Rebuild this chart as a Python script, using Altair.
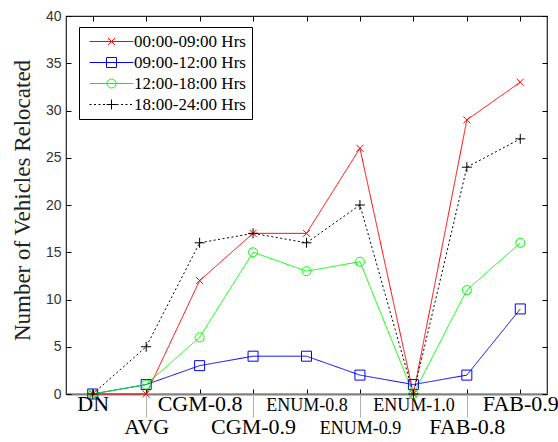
import altair as alt
import pandas as pd

categories = ["DN", "AVG", "CGM-0.8", "CGM-0.9", "ENUM-0.8", "ENUM-0.9", "ENUM-1.0", "FAB-0.8", "FAB-0.9"]
series_names = ["00:00-09:00 Hrs", "09:00-12:00 Hrs", "12:00-18:00 Hrs", "18:00-24:00 Hrs"]
s_00_09 = [0, 0, 12, 17, 17, 26, 0, 29, 33]
s_09_12 = [0, 1, 3, 4, 4, 2, 1, 2, 9]
s_12_18 = [0, 1, 6, 15, 13, 14, 0, 11, 16]
s_18_24 = [0, 5, 16, 17, 16, 20, 0, 24, 27]
y_ticks = [0, 5, 10, 15, 20, 25, 30, 35, 40]
lower_row = ["AVG", "CGM-0.9", "ENUM-0.9", "FAB-0.8"]

colors = ["#ff0000", "#0000ff", "#00ff00", "#000000"]

rows = []
for name, vals in zip(series_names, [s_00_09, s_09_12, s_12_18, s_18_24]):
    for i, (c, v) in enumerate(zip(categories, vals)):
        rows.append({"cat": c, "series": name, "value": v, "idx": i})
df = pd.DataFrame(rows)

# marker symbols (unit square paths)
m_x = "M-0.7,-0.7L0.7,0.7M-0.7,0.7L0.7,-0.7"
m_sq = "M-1,-1H1V1H-1Z"
m_ci = "M-0.9,0A0.9,0.9 0 1,0 0.9,0A0.9,0.9 0 1,0 -0.9,0"
m_pl = "M-1,0H1M0,-1V1"
markers = [m_x, m_sq, m_ci, m_pl]

L = 4.4
solid = f"M-{L},0H{L}"
dots = ""
p = -L
while p < L:
    q = min(p + 0.4, L)
    dots += f"M{p:.2f},0H{q:.2f}"
    p += 0.9
legend_syms = [solid + m_x, solid + m_sq, solid + m_ci, dots + m_pl]

odd_test = "indexof(" + str(lower_row) + ", datum.value) >= 0"

x_scale = alt.Scale(type="point", domain=categories, padding=0.5)
y_scale = alt.Scale(domain=[0, 40], nice=False)
col_scale = alt.Scale(domain=series_names, range=colors)
SERIF = "Liberation Serif"
INWARD = {"expr": "-5"}

base = alt.Chart(df)

lines = base.mark_line(strokeWidth=1, clip=False).encode(
    x=alt.X("cat:N", scale=x_scale, sort=categories,
            axis=alt.Axis(orient="bottom", title=None, tickSize=INWARD, tickColor="#000",
                          labelExpr=f"{odd_test} ? ['', datum.label] : datum.label",
                          labelFont=SERIF,
                          labelFontSize={"condition": {"test": "indexof(datum.value, 'ENUM') >= 0", "value": 18}, "value": 22},
                          labelBaseline="alphabetic", labelPadding=21, labelLineHeight=23,
                          labelAngle=0, labelColor="#000", labelOverlap=False,
                          domainColor="#808080", domainWidth=2)),
    y=alt.Y("value:Q", scale=y_scale,
            axis=alt.Axis(orient="left", values=y_ticks, tickSize=INWARD, tickColor="#000",
                          labelFont="Liberation Sans", labelFontSize=14, labelColor="#333",
                          labelPadding=10, domain=False, grid=False,
                          title="Number of Vehicles Relocated", titleFont=SERIF,
                          titleFontSize=23, titleFontWeight="normal", titleColor="#222",
                          titleAngle=-90, titleX=-44, titleY=184,
                          titleAlign="center", titleBaseline="middle")),
    color=alt.Color("series:N", scale=col_scale, legend=None),
    strokeDash=alt.StrokeDash("series:N", scale=alt.Scale(domain=series_names,
                              range=[[1, 0], [1, 0], [1, 0], [2, 2.5]]), legend=None),
    order="idx:Q",
)

points = base.mark_point(filled=False, size=100, strokeWidth=1, opacity=1, clip=False).encode(
    x=alt.X("cat:N", scale=x_scale, sort=categories,
            axis=alt.Axis(orient="top", title=None, labels=False, domain=False,
                          tickSize=INWARD, tickColor="#000")),
    y=alt.Y("value:Q", scale=y_scale,
            axis=alt.Axis(orient="right", values=y_ticks, title=None, labels=False,
                          domain=False, grid=False, tickSize=INWARD, tickColor="#000")),
    color=alt.Color("series:N", scale=col_scale, legend=None),
    shape=alt.Shape("series:N", scale=alt.Scale(domain=series_names, range=markers), legend=None),
)

leg = alt.Legend(orient="none", legendX=13, legendY=11, title=None,
                 labelFont=SERIF, labelFontSize=17, labelColor="#000",
                 strokeColor="#000", fillColor="#fff", padding=6,
                 symbolSize=100, symbolStrokeWidth=1, symbolOpacity=1,
                 symbolOffset=18, labelOffset=14, rowPadding=3, cornerRadius=0)

legend_layer = base.mark_point(filled=False, size=100, opacity=0).encode(
    x=alt.X("cat:N", scale=x_scale, sort=categories,
            axis=alt.Axis(orient="bottom", title=None, labels=False, domain=False,
                          tickSize=23,
                          tickColor={"condition": {"test": odd_test, "value": "#b0b0b0"},
                                     "value": "rgba(0,0,0,0)"})),
    y=alt.Y("value:Q", scale=y_scale, axis=None),
    color=alt.Color("series:N", scale=col_scale, legend=leg),
    shape=alt.Shape("series:N", scale=alt.Scale(domain=series_names, range=legend_syms), legend=leg),
)

chart = alt.layer(lines, points, legend_layer).resolve_scale(
    color="independent", shape="independent", strokeDash="independent"
).resolve_axis(
    x="independent", y="independent"
).properties(
    width=481, height=378,
    autosize=alt.AutoSizeParams(type="none"),
    padding={"left": 66, "top": 16, "right": 11, "bottom": 48},
    background="#ffffff",
).configure_view(stroke="#222", strokeWidth=1.2)

chart.save("out.html", embed_options={"renderer": "svg", "actions": False})
